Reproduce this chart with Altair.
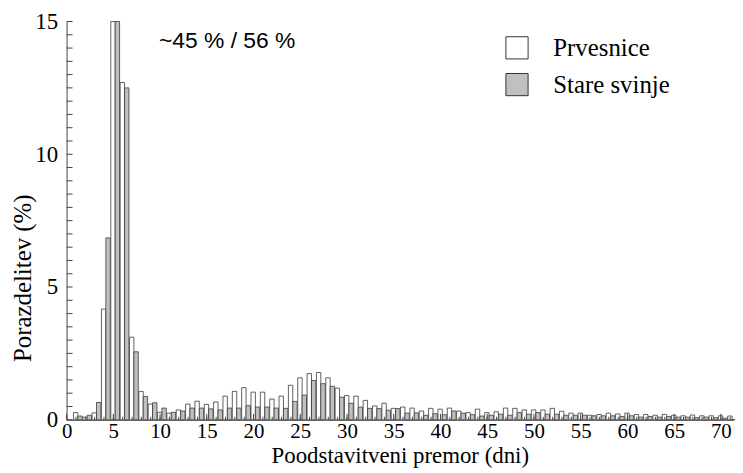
import altair as alt
import pandas as pd
import numpy as np

# ---- data ----
days = list(range(1, 72))
prvesnice = [
    0.27, 0.10, 0.26, 4.17, 45.0, 12.70, 3.11, 1.07, 0.59, 0.28,
    0.25, 0.37, 0.59, 0.70, 0.58, 0.67, 0.89, 1.07, 1.21, 1.04,
    1.04, 0.78, 0.89, 1.30, 1.58, 1.74, 1.78, 1.58, 1.19, 0.91,
    0.89, 0.73, 0.52, 0.62, 0.43, 0.48, 0.44, 0.33, 0.43, 0.40,
    0.44, 0.33, 0.27, 0.40, 0.27, 0.30, 0.44, 0.43, 0.37, 0.37,
    0.37, 0.43, 0.32, 0.25, 0.25, 0.17, 0.20, 0.25, 0.22, 0.25,
    0.20, 0.20, 0.17, 0.20, 0.17, 0.15, 0.18, 0.15, 0.15, 0.15,
    0.14,
]
stare_svinje = [
    0.14, 0.17, 0.65, 6.85, 56.0, 12.50, 2.56, 0.88, 0.64, 0.44,
    0.28, 0.33, 0.44, 0.44, 0.41, 0.37, 0.44, 0.44, 0.53, 0.48,
    0.48, 0.44, 0.43, 0.69, 0.93, 1.48, 1.36, 1.26, 0.85, 0.62,
    0.48, 0.43, 0.42, 0.36, 0.42, 0.25, 0.26, 0.17, 0.23, 0.19,
    0.33, 0.25, 0.19, 0.14, 0.17, 0.21, 0.17, 0.27, 0.21, 0.27,
    0.21, 0.21, 0.17, 0.17, 0.17, 0.15, 0.15, 0.15, 0.12, 0.15,
    0.10, 0.12, 0.10, 0.12, 0.10, 0.10, 0.08, 0.10, 0.08, 0.06,
    0.0,
]
series_names = ["Prvesnice", "Stare svinje"]
series_colors = ["#ffffff", "#c0c0c0"]
x_tick_labels = list(range(0, 75, 5))
x_minor_ticks = list(range(0, 72, 1))
y_tick_labels = [0, 5, 10, 15]
y_minor_ticks = [v / 2 for v in range(0, 31)]
annotation = "~45 % / 56 %"

W, H = 671, 401
SERIF = "Liberation Serif"

df = pd.DataFrame({"day": days, "Prvesnice": prvesnice, "Stare svinje": stare_svinje})

x_scale = alt.Scale(domain=[0, 71.3], nice=False, zero=False)
y_scale = alt.Scale(domain=[0, 15], nice=False, clamp=True)

x_axis = alt.Axis(
    values=x_tick_labels,
    ticks=False,
    grid=False,
    labelFont=SERIF,
    labelFontSize=21,
    labelColor="#000",
    labelPadding=1,
    labelFlush=False,
    labelOverlap=False,
    domainColor="#444",
    title="Poodstavitveni premor (dni)",
    titleFont=SERIF,
    titleFontSize=23,
    titleFontWeight="normal",
    titleColor="#000",
    titleBaseline="top",
    titleY=25,
)
y_axis = alt.Axis(
    values=y_tick_labels,
    ticks=False,
    grid=False,
    labelFont=SERIF,
    labelFontSize=23,
    labelColor="#000",
    labelPadding=9,
    labelFlush=False,
    domainColor="#444",
    title="Porazdelitev (%)",
    titleFont=SERIF,
    titleFontSize=25,
    titleFontWeight="normal",
    titleColor="#000",
    titleX=-31,
    titleY=258,
)

bars = (
    alt.Chart(df)
    .transform_fold(series_names, as_=["series", "value"])
    .transform_calculate(
        x0="datum.series == 'Prvesnice' ? datum.day - 0.27 : datum.day + 0.2",
        x1="datum.series == 'Prvesnice' ? datum.day + 0.2 : datum.day + 0.67",
    )
    .mark_rect(stroke="#3a3a3a", strokeWidth=0.8)
    .encode(
        x=alt.X("x0:Q", scale=x_scale, axis=x_axis),
        x2="x1:Q",
        y=alt.Y("value:Q", scale=y_scale, axis=y_axis),
        y2=alt.Y2(datum=0),
        fill=alt.Fill(
            "series:N",
            scale=alt.Scale(domain=series_names, range=series_colors),
            legend=alt.Legend(
                title=None,
                orient="none",
                legendX=441,
                legendY=14,
                symbolType="square",
                symbolSize=500,
                symbolStrokeColor="#333",
                symbolStrokeWidth=1,
                symbolOpacity=1,
                labelFont=SERIF,
                labelFontSize=25,
                labelColor="#000",
                labelOffset=24,
                rowPadding=10,
                padding=0,
            ),
        ),
    )
)

ydf = pd.DataFrame({"value": y_minor_ticks})
y_ticks = alt.Chart(ydf).mark_rule(color="#444", strokeWidth=1).encode(
    y=alt.Y("value:Q", scale=y_scale, axis=y_axis),
    x=alt.value(0),
    x2=alt.value(6),
)

xdf = pd.DataFrame({"x0": x_minor_ticks})
x_ticks = alt.Chart(xdf).mark_rule(color="#444", strokeWidth=1).encode(
    x=alt.X("x0:Q", scale=x_scale, axis=x_axis),
    y=alt.value(H),
    y2=alt.value(H - 3),
)
xdf5 = pd.DataFrame({"x0": x_tick_labels})
x_ticks5 = alt.Chart(xdf5).mark_rule(color="#444", strokeWidth=1).encode(
    x=alt.X("x0:Q", scale=x_scale, axis=x_axis),
    y=alt.value(H),
    y2=alt.value(H - 6),
)

note = alt.Chart(pd.DataFrame({"label": [annotation]})).mark_text(
    align="left", baseline="middle", font="Liberation Sans", fontSize=23, color="#000"
).encode(text="label:N", x=alt.value(93), y=alt.value(20))

chart = (
    alt.layer(bars, y_ticks, x_ticks, x_ticks5, note)
    .properties(
        width=W,
        height=H,
        autosize=alt.AutoSizeParams(type="none"),
        padding={"left": 59, "top": 12, "right": 2, "bottom": 52},
    )
    .configure_view(stroke=None)
)

chart.save("out.html", embed_options={"renderer": "svg", "actions": False})
